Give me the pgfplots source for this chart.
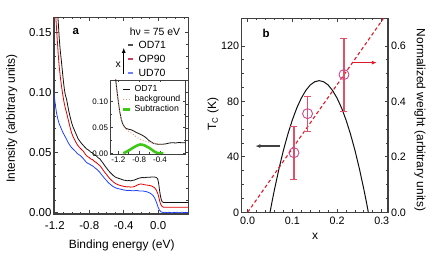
\documentclass[border=0pt]{standalone}
\usepackage{fontspec}
\setmainfont{Liberation Sans}
\usepackage{pgfplots}
\pgfplotsset{compat=1.18}
\usetikzlibrary{arrows.meta}
\definecolor{axgray}{HTML}{404040}
\definecolor{cblack}{HTML}{101010}
\definecolor{cred}{HTML}{E00000}
\definecolor{cblue}{HTML}{2040FF}
\definecolor{lgblack}{HTML}{505050}
\definecolor{lgred}{HTML}{C84060}
\definecolor{lgblue}{HTML}{7080FF}
\definecolor{bgsalmon}{HTML}{E8946C}
\definecolor{cgreen}{HTML}{3CC814}
\definecolor{ebred}{HTML}{E05068}
\definecolor{circ}{HTML}{C84890}
\definecolor{dashred}{HTML}{E01828}
\pgfplotsset{myax/.style={scale only axis, anchor=south west,
  axis line style={draw=axgray, line width=1.1bp},
  tick style={draw=axgray, line width=0.8bp},
  major tick length=3.5bp, minor tick length=2bp, tick align=inside,
  /pgf/number format/assume math mode=true, scaled ticks=false}}
\begin{document}
\begin{tikzpicture}
\useasboundingbox (0bp,0bp) rectangle (436bp,257bp);
% ---------------- panel a ----------------
\begin{axis}[myax, at={(54bp,43bp)}, width=134.3bp, height=196.7bp,
  xmin=-1.21, xmax=0.35, ymin=-0.0012, ymax=0.1627,
  xtick={-1.2,-0.8,-0.4,0.0},
  minor xtick={-1.1,-1.0,-0.9,-0.7,-0.6,-0.5,-0.3,-0.2,-0.1,0.1,0.2,0.3},
  ytick={0,0.05,0.1,0.15}, minor y tick num=4,
  tick label style={font=\fontsize{11.5}{12}\selectfont},
  xticklabel style={yshift=-3.5bp,/pgf/number format/.cd,fixed,fixed zerofill,precision=1},
  yticklabel style={xshift=1bp,/pgf/number format/.cd,fixed,fixed zerofill,precision=2},
  legend image code/.code={\draw[#1] (0bp,0bp) -- (5bp,0bp);},
  legend cell align=left,
  legend style={at={(axis cs:-0.36,0.1448)}, anchor=north west, draw=none, fill=none,
    font=\fontsize{10.5}{11}\selectfont, row sep=1.2bp, column sep=2.5bp, inner sep=0pt},
]
\addplot[cblack, line width=0.8bp, forget plot] coordinates {
(-1.172,0.170) (-1.160,0.158) (-1.150,0.146) (-1.140,0.137) (-1.130,0.130) (-1.122,0.1248)
(-1.110,0.116) (-1.100,0.109) (-1.090,0.103) (-1.080,0.0985) (-1.064,0.0944) (-1.050,0.089)
(-1.035,0.0835) (-1.020,0.079) (-1.006,0.0751) (-0.990,0.0715) (-0.975,0.0690) (-0.960,0.0665)
(-0.945,0.0640) (-0.929,0.0613) (-0.915,0.0600) (-0.900,0.0585) (-0.885,0.0572) (-0.870,0.0560)
(-0.855,0.0548) (-0.832,0.0530) (-0.815,0.0524) (-0.800,0.0515) (-0.780,0.0502) (-0.760,0.0496)
(-0.740,0.0480) (-0.720,0.0474) (-0.700,0.0458) (-0.677,0.0447) (-0.660,0.0430) (-0.640,0.0412)
(-0.620,0.0390) (-0.600,0.0372) (-0.580,0.0352) (-0.561,0.0337) (-0.540,0.0322) (-0.520,0.0308)
(-0.500,0.0297) (-0.480,0.0290) (-0.460,0.0285) (-0.445,0.0282) (-0.420,0.0275) (-0.400,0.0270)
(-0.380,0.0268) (-0.360,0.0265) (-0.340,0.0267) (-0.320,0.0264) (-0.300,0.0268) (-0.280,0.0270)
(-0.260,0.0276) (-0.240,0.0282) (-0.220,0.0287) (-0.200,0.0290) (-0.180,0.0292) (-0.160,0.0290)
(-0.140,0.0293) (-0.120,0.0295) (-0.100,0.0294) (-0.080,0.0296) (-0.060,0.0297) (-0.040,0.0296)
(-0.020,0.0292) (-0.005,0.0280) (0.005,0.0245) (0.015,0.0190) (0.025,0.0145) (0.035,0.0110)
(0.045,0.0092) (0.060,0.0084) (0.10,0.0083) (0.15,0.0084) (0.20,0.0083) (0.25,0.0084)
(0.30,0.0083) (0.35,0.0083)};
\addplot[cred, line width=0.8bp, forget plot] coordinates {
(-1.195,0.170) (-1.188,0.162) (-1.175,0.147) (-1.162,0.133) (-1.150,0.122) (-1.135,0.112)
(-1.122,0.105) (-1.110,0.099) (-1.095,0.0925) (-1.080,0.0875) (-1.064,0.0831) (-1.050,0.0790)
(-1.035,0.0745) (-1.020,0.0700) (-1.006,0.0665) (-0.990,0.0635) (-0.975,0.0612) (-0.960,0.0592)
(-0.945,0.0572) (-0.929,0.0555) (-0.910,0.0540) (-0.890,0.0525) (-0.870,0.0512) (-0.850,0.0490)
(-0.832,0.0473) (-0.815,0.0465) (-0.800,0.0458) (-0.780,0.0445) (-0.760,0.0440) (-0.740,0.0425)
(-0.720,0.0418) (-0.700,0.0404) (-0.677,0.0392) (-0.660,0.0375) (-0.640,0.0355) (-0.620,0.0335)
(-0.600,0.0318) (-0.580,0.0298) (-0.561,0.0282) (-0.540,0.0268) (-0.520,0.0255) (-0.500,0.0244)
(-0.480,0.0237) (-0.460,0.0230) (-0.445,0.0227) (-0.420,0.0222) (-0.400,0.0218) (-0.380,0.0216)
(-0.360,0.0214) (-0.340,0.0215) (-0.320,0.0212) (-0.300,0.0213) (-0.280,0.0216) (-0.260,0.0222)
(-0.240,0.0230) (-0.220,0.0236) (-0.200,0.0238) (-0.180,0.0236) (-0.160,0.0232) (-0.140,0.0230)
(-0.120,0.0228) (-0.100,0.0226) (-0.080,0.0222) (-0.060,0.0215) (-0.040,0.0205) (-0.020,0.0185)
(0.000,0.0150) (0.010,0.0120) (0.020,0.0090) (0.030,0.0068) (0.045,0.0052) (0.060,0.0045)
(0.10,0.0044) (0.15,0.0045) (0.20,0.0044) (0.25,0.0044) (0.30,0.0045) (0.35,0.0044)};
\addplot[cblue, line width=0.8bp, forget plot] coordinates {
(-1.215,0.101) (-1.205,0.096) (-1.195,0.090) (-1.181,0.0831) (-1.165,0.0778) (-1.150,0.0740)
(-1.135,0.0715) (-1.122,0.0693) (-1.105,0.0665) (-1.090,0.0645) (-1.075,0.0625) (-1.064,0.0610)
(-1.050,0.0590) (-1.035,0.0570) (-1.020,0.0555) (-1.006,0.0541) (-0.990,0.0530) (-0.975,0.0520)
(-0.960,0.0510) (-0.945,0.0496) (-0.929,0.0486) (-0.910,0.0478) (-0.890,0.0465) (-0.870,0.0450)
(-0.850,0.0432) (-0.832,0.0417) (-0.815,0.0410) (-0.800,0.0405) (-0.780,0.0395) (-0.760,0.0388)
(-0.740,0.0375) (-0.720,0.0365) (-0.700,0.0352) (-0.677,0.0334) (-0.660,0.0318) (-0.640,0.0300)
(-0.620,0.0282) (-0.600,0.0268) (-0.580,0.0250) (-0.561,0.0238) (-0.540,0.0226) (-0.520,0.0215)
(-0.500,0.0208) (-0.480,0.0202) (-0.460,0.0199) (-0.445,0.0196) (-0.420,0.0192) (-0.400,0.0188)
(-0.380,0.0186) (-0.360,0.0184) (-0.340,0.0185) (-0.320,0.0183) (-0.300,0.0182) (-0.280,0.0182)
(-0.260,0.0184) (-0.240,0.0183) (-0.220,0.0180) (-0.200,0.0179) (-0.180,0.0180) (-0.160,0.0177)
(-0.136,0.0174) (-0.120,0.0170) (-0.100,0.0164) (-0.080,0.0155) (-0.058,0.0141) (-0.040,0.0120)
(-0.020,0.0085) (0.000,0.0044) (0.015,0.0020) (0.030,0.0008) (0.045,0.0003) (0.06,0.0000)
(0.08,0.0003) (0.10,-0.0002) (0.12,0.0002) (0.14,0.0001) (0.16,-0.0003) (0.18,0.0002)
(0.20,0.0000) (0.22,0.0003) (0.24,-0.0002) (0.26,0.0001) (0.28,0.0003) (0.30,-0.0001)
(0.32,0.0002) (0.35,0.0000)};
\addlegendimage{lgblack, line width=1.8bp}
\addlegendentry{OD71}
\addlegendimage{lgred, line width=1.8bp}
\addlegendentry{OP90}
\addlegendimage{lgblue, line width=1.8bp}
\addlegendentry{UD70}
\node[font=\fontsize{11.5}{12}\selectfont\bfseries] at (axis cs:-0.956,0.1505) {a};
\node[anchor=east, font=\fontsize{10.5}{11}\selectfont, inner sep=0pt] at (axis cs:0.258,0.1505) {hν = 75 eV};
\draw[-{Latex[length=5bp,width=4bp]}, black, line width=1.1bp] (axis cs:-0.40,0.1152) -- (axis cs:-0.40,0.1373);
\node[font=\fontsize{10.5}{11}\selectfont, inner sep=0pt] at (axis cs:-0.465,0.1234) {x};
\end{axis}
% ---------------- inset ----------------
\begin{axis}[myax, at={(110bp,103bp)}, width=75bp, height=74bp,
  axis background/.style={fill=white},
  axis line style={draw=axgray, line width=0.9bp},
  major tick length=2.5bp, minor tick length=1.5bp,
  xmin=-1.36, xmax=0.08, ymin=-0.0014, ymax=0.142,
  xtick={-1.2,-0.8,-0.4}, minor x tick num=1,
  ytick={0,0.05,0.1}, minor y tick num=1,
  tick label style={font=\fontsize{8}{8.5}\selectfont},
  xticklabel style={yshift=1bp,/pgf/number format/.cd,fixed,fixed zerofill,precision=1},
  yticklabel style={xshift=1.5bp,/pgf/number format/.cd,fixed,fixed zerofill,precision=2},
  legend image code/.code={\draw[#1] (0bp,0bp) -- (7bp,0bp);},
  legend cell align=left,
  legend style={at={(rel axis cs:0.15,0.955)}, anchor=north west, draw=none, fill=none,
    font=\fontsize{8.8}{9}\selectfont, row sep=-1.8bp, column sep=1.5bp, inner sep=0pt},
]
\addplot[cblack, line width=0.8bp] coordinates {
(-1.26,0.150) (-1.25,0.142) (-1.225,0.120) (-1.20,0.100) (-1.175,0.082) (-1.148,0.0678)
(-1.12,0.058) (-1.085,0.0516) (-1.05,0.048) (-1.00,0.0465) (-0.943,0.0452) (-0.90,0.043)
(-0.85,0.040) (-0.80,0.038) (-0.751,0.0355) (-0.70,0.0325) (-0.65,0.0285) (-0.624,0.0258)
(-0.58,0.0225) (-0.528,0.0194) (-0.48,0.0180) (-0.42,0.0175) (-0.367,0.0174) (-0.30,0.0180)
(-0.24,0.0195) (-0.175,0.0205) (-0.10,0.0200) (-0.04,0.0208) (0.02,0.0205) (0.08,0.0206)};
\addlegendentry{OD71}
\addplot[bgsalmon, line width=0.9bp, dotted] coordinates {
(-1.26,0.150) (-1.25,0.142) (-1.225,0.120) (-1.20,0.100) (-1.175,0.082) (-1.148,0.0678)
(-1.12,0.058) (-1.085,0.050) (-1.04,0.045) (-0.99,0.0415) (-0.943,0.0388) (-0.88,0.034)
(-0.816,0.0291) (-0.75,0.0260) (-0.70,0.0240) (-0.624,0.0219) (-0.55,0.0200) (-0.463,0.0186)
(-0.40,0.0178) (-0.367,0.0174) (-0.33,0.0174)};
\addlegendentry{background}
\addplot[cgreen, line width=2.6bp] coordinates {
(-1.104,0.000) (-1.06,0.002) (-1.008,0.005) (-0.96,0.008) (-0.912,0.011) (-0.86,0.0140)
(-0.816,0.0160) (-0.78,0.0170) (-0.751,0.0168) (-0.70,0.0155) (-0.655,0.0130) (-0.60,0.0100)
(-0.559,0.0070) (-0.51,0.0035) (-0.463,0.0010) (-0.42,0.0002) (-0.38,0.0001) (-0.336,0.0000)};
\addlegendentry{Subtraction}
\end{axis}
% ---------------- panel b ----------------
\begin{axis}[myax, at={(241.7bp,44.7bp)}, width=146.3bp, height=194bp,
  xmin=-0.0134, xmax=0.314, ymin=0, ymax=140,
  xtick={0,0.1,0.2,0.3}, minor x tick num=4,
  ytick={0,40,80,120}, minor y tick num=3,
  ytick pos=left,
  tick label style={font=\fontsize{10.8}{11}\selectfont},
  xticklabel style={yshift=-1.5bp,/pgf/number format/.cd,fixed,fixed zerofill,precision=1},
  yticklabel style={xshift=1bp},
]
\addplot[cblack, line width=1bp] coordinates {
(0.05,0) (0.055,8.5) (0.06,16.5) (0.07,31.4) (0.08,44.8) (0.09,56.5) (0.10,66.7) (0.11,75.4)
(0.12,82.4) (0.13,87.9) (0.14,91.9) (0.15,94.2) (0.16,95) (0.17,94.2) (0.18,91.9) (0.19,87.9)
(0.20,82.4) (0.21,75.4) (0.22,66.7) (0.23,56.5) (0.24,44.8) (0.25,31.4) (0.26,16.5) (0.265,8.5)
(0.27,0)};
\draw[-{Latex[length=5bp,width=4bp]}, axgray, line width=1.2bp] (axis cs:0.072,47.8) -- (axis cs:0.017,47.8);
\node[font=\fontsize{11.5}{12}\selectfont\bfseries] at (axis cs:0.041,129.4) {b};
\end{axis}
\begin{axis}[myax, at={(241.7bp,44.7bp)}, width=146.3bp, height=194bp,
  xmin=-0.0134, xmax=0.314, ymin=0, ymax=0.7,
  hide x axis,
  ytick={0,0.2,0.4,0.6}, minor y tick num=3,
  ytick pos=right, yticklabel pos=right,
  tick label style={font=\fontsize{10.8}{11}\selectfont},
  yticklabel style={xshift=-0.5bp,/pgf/number format/.cd,fixed,fixed zerofill,precision=1},
]
\addplot[dashred, line width=1.1bp, dash pattern=on 3.5bp off 2.5bp] coordinates {(0,0) (0.304,0.70)};
\addplot[only marks, mark=o, mark size=5bp, circ, line width=0.9bp,
  error bars/.cd, y dir=both, y explicit,
  error bar style={ebred, line width=1.2bp},
  error mark options={ebred, rotate=90, mark size=3.5bp, line width=1.2bp}]
  table[x=x, y=y, y error plus=ep, y error minus=em] {
x y ep em
0.1036 0.215 0.096 0.098
0.134 0.356 0.063 0.064
0.2155 0.497 0.131 0.132
};
\draw[-{Latex[length=5bp,width=4bp]}, dashred, line width=1.2bp] (axis cs:0.233,0.54) -- (axis cs:0.289,0.54);
\end{axis}
% ---------------- labels ----------------
\node[rotate=90, font=\fontsize{12}{12}\selectfont] at (11.7bp,138.5bp) {Intensity (arbitrary units)};
\node[font=\fontsize{12}{12}\selectfont] at (121.7bp,12bp) {Binding energy (eV)};
\node[rotate=90, font=\fontsize{12}{12}\selectfont] at (213bp,143bp) {T\textsubscript{C} (K)};
\node[font=\fontsize{12}{12}\selectfont] at (315bp,20.3bp) {x};
\node[rotate=-90, font=\fontsize{12}{12}\selectfont] at (420bp,137bp) {Normalized weight (arbitrary units)};
\end{tikzpicture}
\end{document}
